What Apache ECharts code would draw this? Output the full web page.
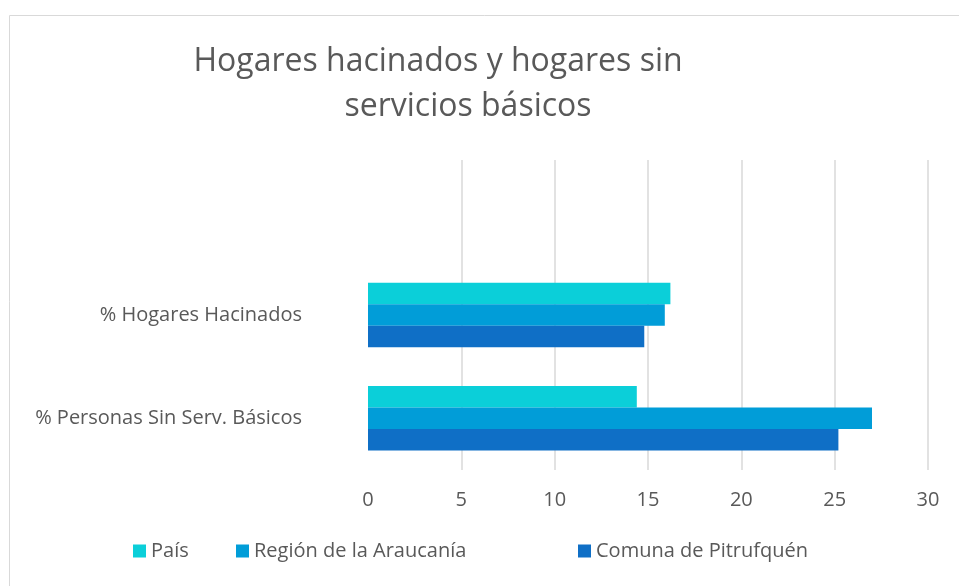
<!DOCTYPE html>
<html>
<head>
<meta charset="utf-8">
<script src="https://cdn.jsdelivr.net/npm/echarts@6/dist/echarts.min.js"></script>
<style>
  html, body { margin: 0; padding: 0; background: #fff; }
  #chart { width: 959px; height: 586px; }
</style>
</head>
<body>
<div id="chart"></div>
<script>
// top category is left empty, like the source sheet
const categories = ['', '% Hogares Hacinados', '% Personas Sin Serv. Básicos'];
const seriesNames = ['País', 'Región de la Araucanía', 'Comuna de Pitrufquén'];
const pais = [null, 16.2, 14.4];
const region = [null, 15.9, 27.0];
const comuna = [null, 14.8, 25.2];
const xTicks = [0, 30, 5]; // min, max, interval

const colors = ['#0bcfd9', '#019dd8', '#0f6fc6'];
const textColor = '#595959';
const font = 'Open Sans';

const chart = echarts.init(document.getElementById('chart'));

const values = [pais, region, comuna];

const option = {
  animation: false,
  textStyle: { fontFamily: font },
  graphic: [
    {
      type: 'rect',
      shape: { x: 9.5, y: 15.5, width: 1000, height: 600 },
      style: { fill: 'none', stroke: '#d9d9d9', lineWidth: 1 },
      silent: true
    },
    {
      type: 'text',
      x: 438, y: 62,
      style: {
        text: 'Hogares hacinados y hogares sin',
        fill: textColor, font: '32px "' + font + '"',
        textAlign: 'center', textVerticalAlign: 'middle'
      }
    },
    {
      type: 'text',
      x: 468, y: 107,
      style: {
        text: 'servicios básicos',
        fill: textColor, font: '32px "' + font + '"',
        textAlign: 'center', textVerticalAlign: 'middle'
      }
    }
  ],
  legend: seriesNames.map((name, i) => ({
    data: [name],
    left: [133, 236, 578][i],
    top: 541,
    padding: 0,
    icon: 'rect',
    itemWidth: 13,
    itemHeight: 13,
    itemGap: 5,
    textStyle: { color: textColor, fontSize: 20, fontFamily: font },
    selectedMode: false
  })),
  grid: { left: 368, right: 31, top: 160, bottom: 116, containLabel: false },
  xAxis: {
    type: 'value',
    min: xTicks[0],
    max: xTicks[1],
    interval: xTicks[2],
    axisLine: { show: false },
    axisTick: { show: false },
    axisLabel: { color: textColor, fontSize: 20, margin: 20, fontFamily: font },
    splitLine: { show: true, showMinLine: false, lineStyle: { color: '#d9d9d9', width: 1.5 } }
  },
  yAxis: {
    type: 'category',
    data: categories,
    inverse: true,
    axisLine: { show: false },
    axisTick: { show: false },
    axisLabel: { color: textColor, fontSize: 20, margin: 66, fontFamily: font }
  },
  series: seriesNames.map((name, i) => ({
    name: name,
    type: 'bar',
    data: values[i],
    barWidth: 21.5,
    barGap: '0%',
    itemStyle: { color: colors[i] }
  }))
};

chart.setOption(option);
</script>
</body>
</html>
